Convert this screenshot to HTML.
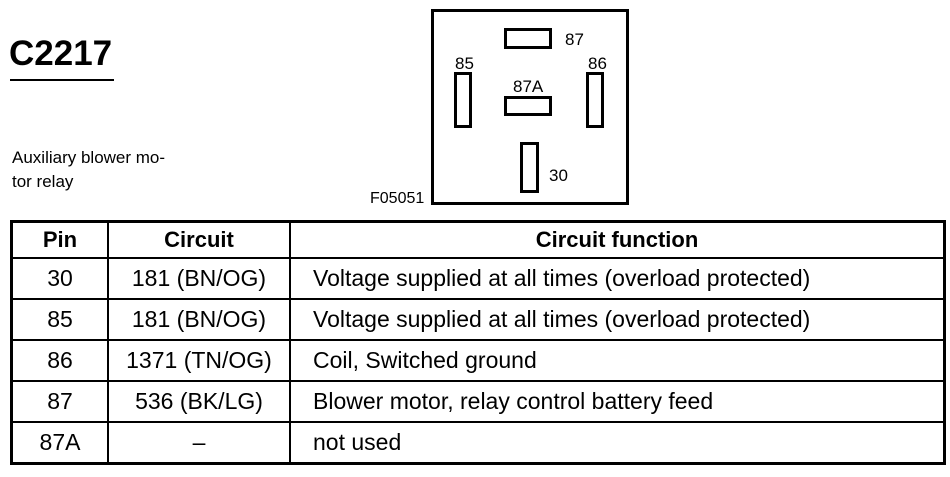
<!DOCTYPE html>
<html><head><style>
body{margin:0;width:950px;height:477px;background:#fff;position:relative;font-family:"Liberation Sans",Arial,sans-serif;color:#000;overflow:hidden}
.a{position:absolute;white-space:nowrap}
.s{position:absolute;border:3px solid #000;box-sizing:border-box}
table{position:absolute;left:10px;top:220px;width:936px;border-collapse:collapse;border:3px solid #000}
td{border:2px solid #000;height:39px;padding:0;font-size:23px;text-align:center}
td.f{text-align:left;padding-left:22px}
tr.h td{font-weight:bold;height:34px;font-size:22px}
</style></head><body>
<div class="a" style="left:9px;top:34px;font-size:35px;font-weight:bold">C2217</div>
<div style="position:absolute;left:10px;top:79px;width:104px;height:2px;background:#000"></div>
<div class="a" style="left:12px;top:146px;font-size:17px;line-height:24px">Auxiliary blower mo-<br>tor relay</div>
<div class="s" style="left:431px;top:9px;width:198px;height:196px"></div>
<div class="s" style="left:504px;top:28px;width:48px;height:21px"></div>
<div class="s" style="left:454px;top:72px;width:18px;height:56px"></div>
<div class="s" style="left:586px;top:72px;width:18px;height:56px"></div>
<div class="s" style="left:504px;top:96px;width:48px;height:20px"></div>
<div class="s" style="left:520px;top:142px;width:19px;height:51px"></div>
<div class="a" style="left:565px;top:30px;font-size:17px">87</div>
<div class="a" style="left:455px;top:54px;font-size:17px">85</div>
<div class="a" style="left:588px;top:54px;font-size:17px">86</div>
<div class="a" style="left:513px;top:77px;font-size:17px">87A</div>
<div class="a" style="left:549px;top:166px;font-size:17px">30</div>
<div class="a" style="left:370px;top:190px;font-size:16px">F05051</div>
<table>
<tr class="h"><td style="width:94px">Pin</td><td style="width:180px">Circuit</td><td>Circuit function</td></tr>
<tr><td>30</td><td>181 (BN/OG)</td><td class="f">Voltage supplied at all times (overload protected)</td></tr>
<tr><td>85</td><td>181 (BN/OG)</td><td class="f">Voltage supplied at all times (overload protected)</td></tr>
<tr><td>86</td><td>1371 (TN/OG)</td><td class="f">Coil, Switched ground</td></tr>
<tr><td>87</td><td>536 (BK/LG)</td><td class="f">Blower motor, relay control battery feed</td></tr>
<tr><td>87A</td><td>–</td><td class="f">not used</td></tr>
</table>
</body></html>
